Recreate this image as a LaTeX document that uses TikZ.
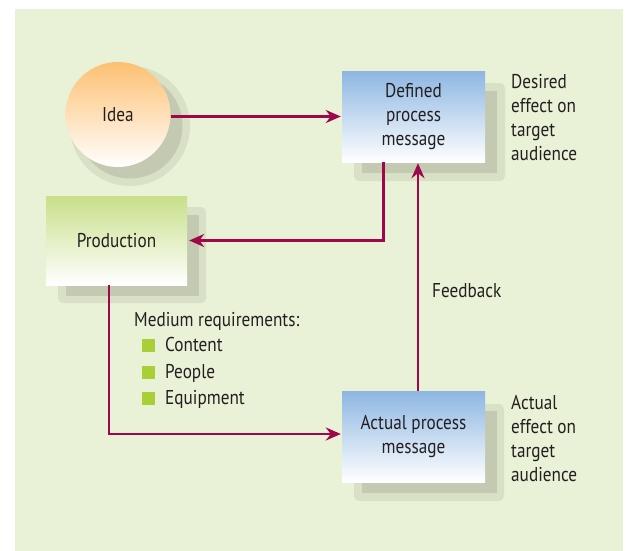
\documentclass[tikz,border=0pt]{standalone}
\usepackage{fontspec}
\setmainfont[FakeStretch=0.86]{PT Sans}
\usetikzlibrary{arrows.meta,calc}
\definecolor{bg}{HTML}{E9F1D6}
\definecolor{halo}{HTML}{D8E0C6}
\definecolor{shad}{HTML}{C3CAB1}
\definecolor{arrowc}{HTML}{A0064A}
\definecolor{txt}{HTML}{231F20}
\definecolor{bluetop}{HTML}{8DB6E2}
\definecolor{greentop}{HTML}{C8DF8A}
\definecolor{orangetop}{HTML}{FDC072}
\definecolor{bullet}{HTML}{A8CF38}
\tikzset{
  box/.style={rectangle, inner sep=0pt, align=center, text=txt, bottom color=white},
  arr/.style={draw=arrowc, line width=2.6pt, -{Stealth[length=15pt,width=13pt,inset=5pt]}},
  lbl/.style={inner sep=0pt, align=left, text=txt},
  halobox/.style={fill=halo, rounded corners=5pt},
  shadbox/.style={fill=shad},
  bul/.style={fill=bullet, minimum size=13pt, inner sep=0pt}
}
\begin{document}
\begin{tikzpicture}[x=1pt,y=-1pt,font=\fontsize{20}{24}\selectfont]
\useasboundingbox (0,0) rectangle (626,551);
\fill[white] (0,0) rectangle (626,551);
\fill[bg] (15,9) rectangle (623,551);

% shadows
\fill[halo] (130,126) circle (60);
\fill[shad] (130,126) circle (52.5);
\fill[halobox] (354,83) rectangle (505,181);
\fill[shadbox] (362,91) rectangle (497,173);
\fill[halobox] (58,207) rectangle (206,303);
\fill[shadbox] (66,215) rectangle (199,296);
\fill[halobox] (354,404) rectangle (504,501);
\fill[shadbox] (362,411) rectangle (497,493);

% nodes
\node[circle, minimum size=105pt, inner sep=0pt, top color=orangetop, bottom color=white, text=txt] (idea) at (118,114.5) {Idea};
\node[box, top color=bluetop, minimum width=143pt, minimum height=91pt] (defined) at (413.5,116.5) {Defined\\process\\message};
\node[box, top color=greentop, minimum width=141pt, minimum height=89pt] (production) at (116.5,240.5) {Production};
\node[box, top color=bluetop, minimum width=143pt, minimum height=91pt] (actual) at (413.5,436.5) {Actual process\\message};

% labels
\node[lbl, anchor=north west] (desired) at (511,74) {Desired\\effect on\\target\\audience};
\node[lbl, anchor=north west] (actualeff) at (511,395) {Actual\\effect on\\target\\audience};
\node[lbl, anchor=base west] (feedback) at (432,297) {Feedback};
\node[lbl, anchor=base west] (medium) at (134,326) {Medium requirements:};
\node[bul] (b1) at (148.8,345.7) {};
\node[bul] (b2) at (148.8,372) {};
\node[bul] (b3) at (148.8,398) {};
\node[lbl, anchor=base west] (content) at (165,351.7) {Content};
\node[lbl, anchor=base west] (people) at (165,378) {People};
\node[lbl, anchor=base west] (equip) at (165,404) {Equipment};

% connectors
\draw[arr] (idea.east |- defined.west) -- ([xshift=-1pt]defined.west);
\draw[arr] ([xshift=-30pt]defined.south) |- ([xshift=2pt]production.east);
\draw[arr] ([xshift=4.5pt]actual.north) -- ([xshift=4.5pt,yshift=-1pt]defined.south);
\draw[arr] ([xshift=-7.5pt]production.south) |- ([xshift=-1pt,yshift=2.5pt]actual.west);
\end{tikzpicture}
\end{document}
